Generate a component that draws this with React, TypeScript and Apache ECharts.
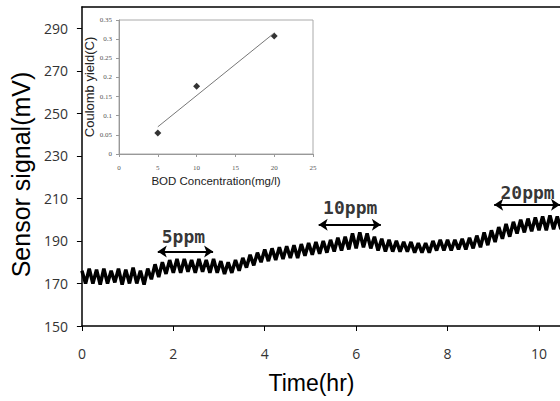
import React, { useEffect, useRef } from 'react';
import * as echarts from 'echarts';

// Main chart: sensor signal (mV) vs time (hr)
const TIME_HR = [
  0, 0.08, 0.16, 0.24, 0.32, 0.4, 0.48, 0.56, 0.64, 0.72,
  0.8, 0.88, 0.96, 1.04, 1.12, 1.2, 1.28, 1.36, 1.44, 1.52,
  1.6, 1.68, 1.76, 1.84, 1.92, 2.0, 2.08, 2.16, 2.24, 2.32,
  2.4, 2.48, 2.56, 2.64, 2.72, 2.8, 2.88, 2.96, 3.04, 3.12,
  3.2, 3.28, 3.36, 3.44, 3.52, 3.6, 3.68, 3.76, 3.84, 3.92,
  4.0, 4.08, 4.16, 4.24, 4.32, 4.4, 4.48, 4.56, 4.64, 4.72,
  4.8, 4.88, 4.96, 5.04, 5.12, 5.2, 5.28, 5.36, 5.44, 5.52,
  5.6, 5.68, 5.76, 5.84, 5.92, 6.0, 6.08, 6.16, 6.24, 6.32,
  6.4, 6.48, 6.56, 6.64, 6.72, 6.8, 6.88, 6.96, 7.04, 7.12,
  7.2, 7.28, 7.36, 7.44, 7.52, 7.6, 7.68, 7.76, 7.84, 7.92,
  8.0, 8.08, 8.16, 8.24, 8.32, 8.4, 8.48, 8.56, 8.64, 8.72,
  8.8, 8.88, 8.96, 9.04, 9.12, 9.2, 9.28, 9.36, 9.44, 9.52,
  9.6, 9.68, 9.76, 9.84, 9.92, 10.0, 10.08, 10.16, 10.24, 10.32,
  10.4, 10.48,
];

const SIGNAL_MV = [
  176, 170, 177, 170, 176.5, 169.5, 177, 170, 176, 170.5,
  177, 169.5, 176.5, 170, 177.5, 170, 176, 169.5, 177, 172,
  179, 173, 180, 174.5, 181, 175, 181.5, 175, 181.5, 175.5,
  181, 175, 181.5, 175.5, 181, 175, 181.5, 175, 180.5, 174.5,
  180, 175, 181, 176, 182, 177.5, 183.5, 178.5, 184.5, 180,
  186, 180.5, 186.5, 181, 187, 181.5, 187.5, 182, 188, 182,
  188.5, 183, 189, 183.5, 189.5, 184, 190, 184.5, 190.5, 185,
  191.5, 185.5, 192, 186, 193.5, 186.5, 194, 187, 193.5, 186.5,
  192, 185.5, 191, 185, 190.5, 185, 190, 185, 189.5, 185,
  189.5, 184.5, 189, 184.5, 189, 184.5, 190, 185.5, 190.5, 185.5,
  190.5, 185.5, 190.5, 186, 191, 186, 191.5, 186.5, 192.5, 187,
  194, 188, 195, 189.5, 196.5, 191, 198, 192, 199, 193.5,
  200, 194, 200.5, 194.5, 201, 195, 201.5, 195, 202, 195.5,
  201.5, 195.5,
];

// Concentration annotations (double arrows + labels)
const ANNOT_LABELS = ['5ppm', '10ppm', '20ppm'];
const ANNOT_START_HR = [1.66, 5.18, 9.02];
const ANNOT_END_HR = [2.87, 6.54, 10.46];
const ANNOT_LEVEL_MV = [185, 197.6, 207];
const ANNOT_TEXT_HR = [2.22, 5.87, 9.75];
const ANNOT_TEXT_MV = [192, 205.5, 213];

// Inset: Coulomb yield vs BOD concentration
const BOD_MG_L = [5, 10, 20];
const COULOMB_C = [0.055, 0.177, 0.308];
const FIT_X = [5, 20];
const FIT_Y = [0.071, 0.316];

export default function App() {
  const ref = useRef<HTMLDivElement>(null);

  useEffect(() => {
    if (!ref.current) return;
    const chart = echarts.init(ref.current, null, { renderer: 'svg' });

    const mainData = TIME_HR.map((t, i) => [t, SIGNAL_MV[i]]);
    const arrows = ANNOT_LABELS.map((_, i) => [
      { coord: [ANNOT_START_HR[i], ANNOT_LEVEL_MV[i]] },
      { coord: [ANNOT_END_HR[i], ANNOT_LEVEL_MV[i]] },
    ]);
    const texts = ANNOT_LABELS.map((name, i) => ({
      name,
      value: [ANNOT_TEXT_HR[i], ANNOT_TEXT_MV[i]],
    }));

    const tickFont = { fontFamily: 'Open Sans', fontSize: 14, color: '#333' };
    const insetFont = { fontFamily: 'Liberation Serif', fontSize: 7, color: '#555' };

    chart.setOption({
      animation: false,
      backgroundColor: '#fff',
      grid: [
        { left: 75, right: 0, top: 7, bottom: 75 },
        {
          left: 119, top: 20, width: 194, height: 134,
          show: true, borderColor: '#aaa', borderWidth: 1, backgroundColor: '#fff',
        },
      ],
      xAxis: [
        {
          gridIndex: 0, type: 'value', min: 0, max: 10.46, interval: 2,
          axisLine: { lineStyle: { color: '#000', width: 1.5 } },
          axisTick: { length: 5, lineStyle: { color: '#000' } },
          axisLabel: { ...tickFont, margin: 20, showMaxLabel: false },
          splitLine: { show: false },
          name: 'Time(hr)', nameLocation: 'middle', nameGap: 45,
          nameTextStyle: {
            fontFamily: 'Liberation Sans', fontSize: 23, color: '#000',
            padding: [0, 19, 0, 0],
          },
        },
        {
          gridIndex: 0, type: 'value', position: 'top', min: 0, max: 10.46,
          axisLine: { show: true, lineStyle: { color: '#000', width: 1.5 } },
          axisTick: { show: false }, axisLabel: { show: false }, splitLine: { show: false },
        },
        {
          gridIndex: 1, type: 'value', min: 0, max: 25, interval: 5,
          axisLine: { lineStyle: { color: '#999' } },
          axisTick: { length: 3, lineStyle: { color: '#999' } },
          axisLabel: { ...insetFont, margin: 10 },
          splitLine: { show: false },
          name: 'BOD Concentration(mg/l)', nameLocation: 'middle', nameGap: 21,
          nameTextStyle: { fontFamily: 'Liberation Sans', fontSize: 11.5, color: '#222' },
        },
      ],
      yAxis: [
        {
          gridIndex: 0, type: 'value', min: 150, max: 300, interval: 20,
          axisLine: { show: true, lineStyle: { color: '#000', width: 1.5 } },
          axisTick: { show: true, length: 5, lineStyle: { color: '#000' } },
          axisLabel: { ...tickFont, margin: 14, showMaxLabel: false },
          splitLine: { show: false },
          name: 'Sensor signal(mV)', nameLocation: 'middle', nameGap: 43,
          nameTextStyle: {
            fontFamily: 'Liberation Sans', fontSize: 25, color: '#000',
            padding: [0, 16, 0, 0],
          },
        },
        {
          gridIndex: 1, type: 'value', min: 0, max: 0.35, interval: 0.05,
          axisLine: { show: true, lineStyle: { color: '#999' } },
          axisTick: { show: true, length: 3, lineStyle: { color: '#999' } },
          axisLabel: { ...insetFont, margin: 7 },
          splitLine: { show: false },
          name: 'Coulomb yield(C)', nameLocation: 'middle', nameGap: 22,
          nameTextStyle: { fontFamily: 'Liberation Sans', fontSize: 13, color: '#222' },
        },
      ],
      series: [
        {
          type: 'line', xAxisIndex: 0, yAxisIndex: 0, data: mainData,
          showSymbol: false, symbol: 'none', smooth: false,
          lineStyle: { color: '#000', width: 3.5 },
          markLine: {
            silent: true, symbol: ['arrow', 'arrow'], symbolSize: 9,
            label: { show: false },
            lineStyle: { color: '#000', width: 2, type: 'solid' },
            data: arrows,
          },
        },
        {
          type: 'scatter', xAxisIndex: 0, yAxisIndex: 0, data: texts,
          symbolSize: 0, silent: true,
          label: {
            show: true, position: 'inside', formatter: '{b}',
            fontFamily: 'DejaVu Sans Mono', fontSize: 18, fontWeight: 'bold', color: '#000',
          },
        },
        {
          type: 'line', xAxisIndex: 2, yAxisIndex: 1,
          data: FIT_X.map((x, i) => [x, FIT_Y[i]]),
          symbol: 'none', lineStyle: { color: '#777', width: 1 },
        },
        {
          type: 'scatter', xAxisIndex: 2, yAxisIndex: 1,
          data: BOD_MG_L.map((x, i) => [x, COULOMB_C[i]]),
          symbol: 'diamond', symbolSize: 7, itemStyle: { color: '#000' },
        },
      ],
    });

    return () => chart.dispose();
  }, []);

  return (
    <div
      ref={ref}
      style={{ position: 'fixed', left: 0, top: 0, width: 560, height: 401 }}
    />
  );
}
